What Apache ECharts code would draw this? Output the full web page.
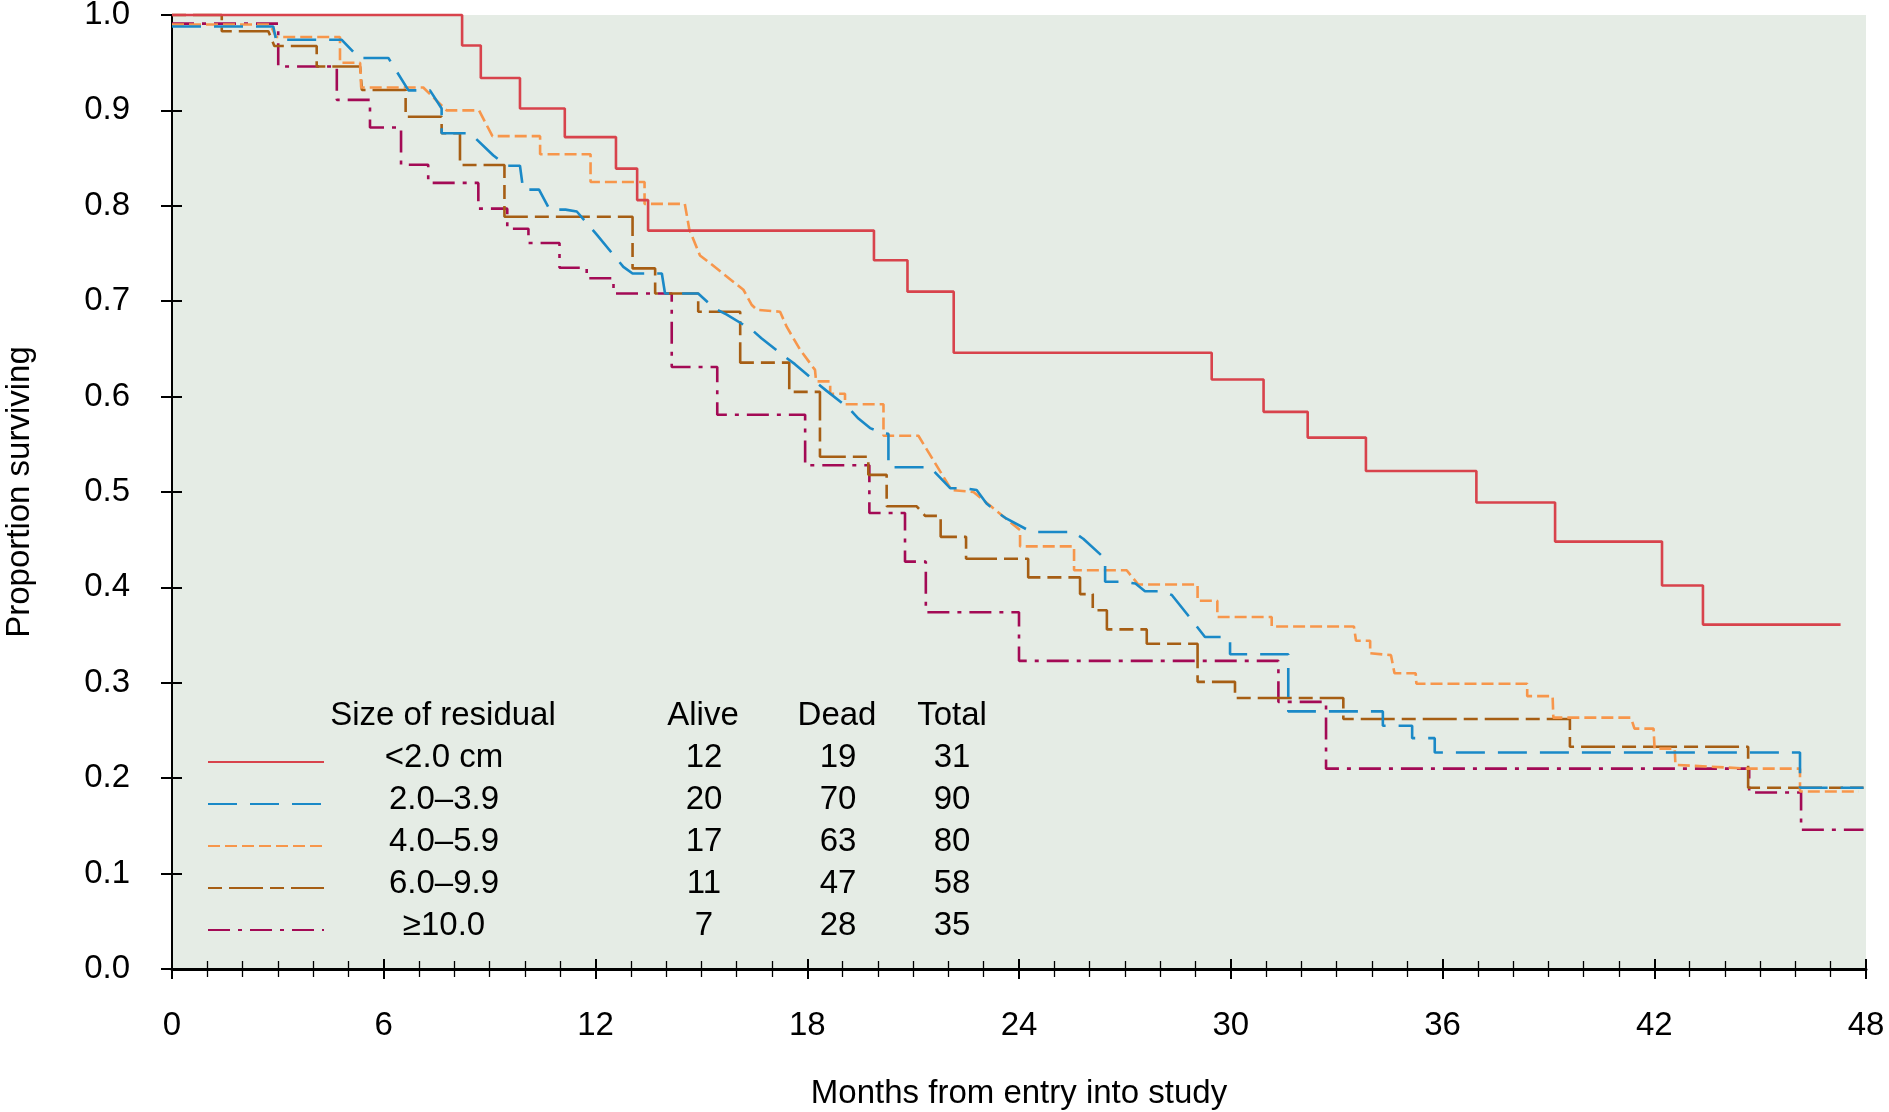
<!DOCTYPE html>
<html><head><meta charset="utf-8">
<script src="https://cdn.jsdelivr.net/npm/echarts@6/dist/echarts.min.js"></script>
<style>html,body{margin:0;padding:0;background:#fff}#c{width:1889px;height:1112px}</style>
</head><body><div id="c"></div>
<script>
// ---- table / legend data ----
const groupNames = ['<2.0 cm', '2.0–3.9', '4.0–5.9', '6.0–9.9', '≥10.0'];
const aliveCounts = [12, 20, 17, 11, 7];
const deadCounts = [19, 70, 63, 47, 28];
const totalCounts = [31, 90, 80, 58, 35];
const tableHeader = ['Size of residual', 'Alive', 'Dead', 'Total'];
const xAxisTitle = 'Months from entry into study';
const yAxisTitle = 'Proportion surviving';

// ---- survival curves: [month, proportion surviving] ----
// step curves (value after each drop)
const curveLt2 = [[0,1],[8.22,0.968],[8.75,0.934],[9.86,0.902],[11.13,0.872],[12.58,0.839],[13.18,0.806],[13.49,0.774],[19.89,0.743],[20.84,0.71],[22.15,0.646],[29.46,0.618],[30.93,0.584],[32.18,0.557],[33.83,0.522],[36.96,0.489],[39.19,0.448],[42.22,0.402],[43.38,0.361],[47.28,0.361]];
const curveGe10 = [[0,0.991],[3.01,0.946],[4.67,0.911],[5.61,0.882],[6.49,0.843],[7.26,0.824],[8.68,0.797],[9.5,0.776],[10.1,0.761],[10.98,0.735],[11.75,0.724],[12.51,0.708],[14.16,0.631],[15.45,0.581],[17.94,0.528],[19.76,0.478],[20.77,0.427],[21.36,0.374],[24.0,0.323],[31.35,0.28],[32.7,0.21],[44.69,0.185],[46.16,0.146],[47.93,0.146]];
// traced outlines (vertices as drawn)
const curve2to39 = [[0,0.988],[2.87,0.988],[2.95,0.974],[4.81,0.974],[5.3,0.955],[6.13,0.955],[6.7,0.921],[7.31,0.921],[7.64,0.902],[7.64,0.876],[8.45,0.876],[9.1,0.853],[9.48,0.842],[9.86,0.842],[9.95,0.817],[10.4,0.817],[10.7,0.796],[11.15,0.796],[11.47,0.794],[12.03,0.77],[12.79,0.736],[13.05,0.729],[13.88,0.729],[13.97,0.708],[14.91,0.708],[15.39,0.692],[15.72,0.686],[16.43,0.67],[16.71,0.661],[17.32,0.643],[17.65,0.634],[18.22,0.616],[18.55,0.606],[19.17,0.588],[19.45,0.577],[19.78,0.567],[20.11,0.562],[20.3,0.561],[20.3,0.526],[21.48,0.526],[22.05,0.504],[22.47,0.504],[22.8,0.502],[23.08,0.488],[23.37,0.479],[23.65,0.472],[24.36,0.458],[25.54,0.458],[25.82,0.451],[26.44,0.43],[26.44,0.406],[26.96,0.406],[27.3,0.404],[27.57,0.396],[28.04,0.396],[28.33,0.392],[28.85,0.368],[29.27,0.348],[29.74,0.348],[29.98,0.346],[29.98,0.33],[31.63,0.33],[31.63,0.27],[34.31,0.27],[34.31,0.255],[35.14,0.255],[35.14,0.242],[35.78,0.242],[35.78,0.227],[46.13,0.227],[46.13,0.19],[47.93,0.19]];
const curve4to59 = [[0,0.99],[2.78,0.99],[2.95,0.977],[4.76,0.977],[4.76,0.95],[5.33,0.95],[5.36,0.924],[7.12,0.924],[7.78,0.9],[8.7,0.9],[9.08,0.873],[10.43,0.873],[10.43,0.854],[11.86,0.854],[11.86,0.825],[13.39,0.825],[13.39,0.802],[14.53,0.802],[14.66,0.775],[14.96,0.748],[15.24,0.74],[16.19,0.712],[16.43,0.696],[16.57,0.691],[17.23,0.689],[17.42,0.673],[17.8,0.649],[18.22,0.628],[18.25,0.616],[18.65,0.616],[18.65,0.603],[19.07,0.603],[19.07,0.592],[20.16,0.592],[20.16,0.559],[21.15,0.559],[22.09,0.502],[22.71,0.5],[24.03,0.46],[24.03,0.443],[25.56,0.443],[25.56,0.418],[27.05,0.418],[27.38,0.403],[29.06,0.403],[29.06,0.386],[29.62,0.386],[29.62,0.369],[31.16,0.369],[31.16,0.359],[33.49,0.359],[33.55,0.344],[33.95,0.344],[33.95,0.331],[34.54,0.329],[34.64,0.31],[35.24,0.31],[35.26,0.299],[38.4,0.299],[38.4,0.286],[39.12,0.286],[39.14,0.2635],[41.34,0.2635],[41.44,0.252],[41.98,0.252],[42.01,0.231],[42.58,0.231],[42.6,0.214],[44.64,0.21],[46.13,0.21],[46.13,0.186],[47.8,0.186]];
const curve6to99 = [[0,1],[1.41,1],[1.41,0.983],[2.73,0.983],[2.9,0.9675],[4.1,0.9675],[4.1,0.946],[5.33,0.946],[5.38,0.9214],[6.62,0.9214],[6.62,0.8934],[7.64,0.8934],[7.64,0.876],[8.16,0.876],[8.16,0.8428],[9.42,0.8428],[9.42,0.7886],[13.05,0.7886],[13.05,0.7344],[13.69,0.7344],[13.69,0.708],[14.91,0.708],[14.91,0.689],[16.1,0.689],[16.1,0.6356],[17.49,0.6356],[17.49,0.605],[18.36,0.605],[18.36,0.537],[19.73,0.537],[19.73,0.518],[20.25,0.518],[20.25,0.485],[21.1,0.485],[21.34,0.475],[21.78,0.475],[21.78,0.453],[22.5,0.453],[22.5,0.43],[24.26,0.43],[24.26,0.4105],[25.73,0.4105],[25.73,0.393],[26.09,0.393],[26.09,0.376],[26.49,0.376],[26.49,0.356],[27.62,0.356],[27.62,0.341],[29.06,0.341],[29.06,0.301],[30.12,0.301],[30.12,0.284],[33.19,0.284],[33.19,0.262],[39.61,0.262],[39.61,0.233],[44.66,0.233],[44.66,0.19],[47.93,0.19]];

const FONT = '"Liberation Sans", Arial, Helvetica, sans-serif';
const chart = echarts.init(document.getElementById('c'), null, {renderer: 'canvas'});

const seriesDefs = [
  {data: curveLt2, step: 'end', color: '#d8434c', dash: 'solid', width: 2.6},
  {data: curve2to39, step: false, color: '#1a89c7', dash: [29, 13], width: 2.6},
  {data: curve4to59, step: false, color: '#f7964b', dash: [12, 5], width: 2.6},
  {data: curve6to99, step: false, color: '#a65e14', dash: [14, 7, 34, 7], width: 2.6},
  {data: curveGe10, step: 'end', color: '#a30a55', dash: [22, 8, 4, 8], width: 2.6}
];

const series = seriesDefs.map((d, i) => ({
  type: 'line',
  name: groupNames[i],
  data: d.data,
  step: d.step,
  symbol: 'none',
  clip: false,
  smooth: false,
  animation: false,
  itemStyle: {color: d.color},
  lineStyle: {color: d.color, width: d.width, type: d.dash},
  z: 10 - i
}));

const rowIndex = {};
groupNames.forEach((n, i) => rowIndex[n] = i);

const axisText = {color: '#000', fontSize: 33, fontFamily: FONT};

const option = {
  backgroundColor: '#ffffff',
  animation: false,
  grid: {left: 172, right: 23, top: 15, bottom: 143, show: true, backgroundColor: '#e5ece5', borderWidth: 0, containLabel: false, outerBoundsMode: 'none'},
  xAxis: [{
    type: 'value', min: 0, max: 48, interval: 6, position: 'bottom', offset: 0,
    axisLine: {show: true, onZero: false, lineStyle: {color: '#000', width: 3}},
    axisTick: {show: true, length: 10, lineStyle: {color: '#000', width: 2}},
    minorTick: {show: true, splitNumber: 6, length: 8, lineStyle: {color: '#000', width: 1.3}},
    axisLabel: Object.assign({margin: 40}, axisText),
    splitLine: {show: false}, minorSplitLine: {show: false},
    name: xAxisTitle, nameLocation: 'middle', nameGap: 108,
    nameTextStyle: axisText
  }, {
    type: 'value', min: 0, max: 48, interval: 6, position: 'bottom', offset: 0,
    axisLine: {show: false, onZero: false},
    axisTick: {show: true, inside: true, length: 10, lineStyle: {color: '#000', width: 2}},
    minorTick: {show: true, splitNumber: 6, length: 8, lineStyle: {color: '#000', width: 1.3}},
    axisLabel: {show: false}, splitLine: {show: false}, minorSplitLine: {show: false}
  }],
  yAxis: [{
    type: 'value', min: 0, max: 1, interval: 0.1, position: 'left', offset: 0,
    axisLine: {show: true, onZero: false, lineStyle: {color: '#000', width: 2}},
    axisTick: {show: true, length: 11, lineStyle: {color: '#000', width: 2}},
    axisLabel: Object.assign({margin: 42, formatter: v => v.toFixed(1)}, axisText),
    splitLine: {show: false},
    name: yAxisTitle, nameLocation: 'middle', nameGap: 136,
    nameTextStyle: axisText
  }, {
    type: 'value', min: 0, max: 1, interval: 0.1, position: 'left', offset: 0,
    axisLine: {show: false, onZero: false},
    axisTick: {show: true, inside: true, length: 10, lineStyle: {color: '#000', width: 2}},
    axisLabel: {show: false}, splitLine: {show: false}
  }],
  legend: {
    show: true, orient: 'vertical', left: 207, top: 741, padding: 0,
    itemWidth: 116, itemHeight: 14, itemGap: 0,
    selectedMode: false,
    data: groupNames,
    itemStyle: {color: 'rgba(0,0,0,0)', borderColor: 'rgba(0,0,0,0)', borderWidth: 0, opacity: 0},
    formatter: name => {
      const i = rowIndex[name];
      return '{n|' + name + '}{s1| }{a|' + aliveCounts[i] + '}{s2| }{d|' + deadCounts[i] + '}{s3| }{t|' + totalCounts[i] + '}';
    },
    textStyle: {
      color: '#000', fontSize: 33, fontFamily: FONT, lineHeight: 34,
      padding: [0, 0, 8, 0],
      rich: {
        n: {width: 230, align: 'center', fontSize: 33, fontFamily: FONT, lineHeight: 34},
        s1: {width: 115, fontSize: 33, lineHeight: 34},
        a: {width: 60, align: 'center', fontSize: 33, fontFamily: FONT, lineHeight: 34},
        s2: {width: 74, fontSize: 33, lineHeight: 34},
        d: {width: 60, align: 'center', fontSize: 33, fontFamily: FONT, lineHeight: 34},
        s3: {width: 54, fontSize: 33, lineHeight: 34},
        t: {width: 60, align: 'center', fontSize: 33, fontFamily: FONT, lineHeight: 34}
      }
    }
  },
  graphic: [
    {type: 'text', x: 443, y: 716, z: 100, style: {text: tableHeader[0], fill: '#000', fontSize: 33, fontFamily: FONT, align: 'center', verticalAlign: 'middle'}},
    {type: 'text', x: 703, y: 716, z: 100, style: {text: tableHeader[1], fill: '#000', fontSize: 33, fontFamily: FONT, align: 'center', verticalAlign: 'middle'}},
    {type: 'text', x: 837, y: 716, z: 100, style: {text: tableHeader[2], fill: '#000', fontSize: 33, fontFamily: FONT, align: 'center', verticalAlign: 'middle'}},
    {type: 'text', x: 952, y: 716, z: 100, style: {text: tableHeader[3], fill: '#000', fontSize: 33, fontFamily: FONT, align: 'center', verticalAlign: 'middle'}}
  ],
  series: series
};
chart.setOption(option);
</script></body></html>
